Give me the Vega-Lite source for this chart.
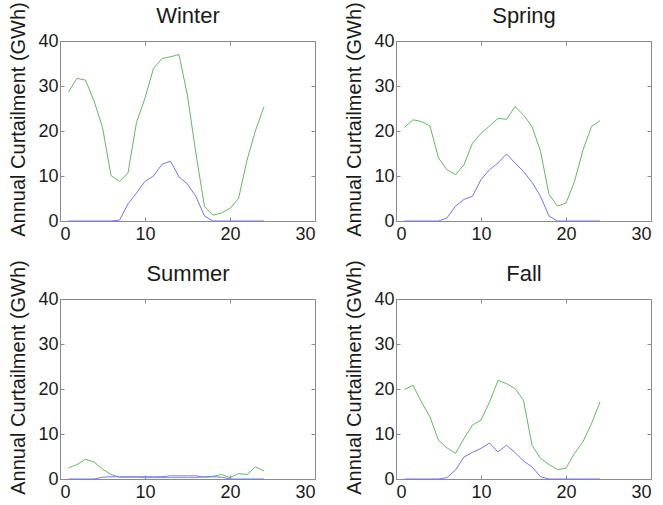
{
  "$schema": "https://vega.github.io/schema/vega-lite/v6.json",
  "padding": {"left": 8, "top": 1, "right": 0, "bottom": 0},
  "background": "white",
  "datasets": {
    "curt": [
      {"season":"Winter","series":"total","hour":1,"value":28.7},{"season":"Winter","series":"total","hour":2,"value":31.7},{"season":"Winter","series":"total","hour":3,"value":31.3},{"season":"Winter","series":"total","hour":4,"value":26.7},{"season":"Winter","series":"total","hour":5,"value":20.8},{"season":"Winter","series":"total","hour":6,"value":10.1},{"season":"Winter","series":"total","hour":7,"value":8.8},{"season":"Winter","series":"total","hour":8,"value":10.7},{"season":"Winter","series":"total","hour":9,"value":21.9},{"season":"Winter","series":"total","hour":10,"value":27.3},{"season":"Winter","series":"total","hour":11,"value":33.9},{"season":"Winter","series":"total","hour":12,"value":36.1},{"season":"Winter","series":"total","hour":13,"value":36.5},{"season":"Winter","series":"total","hour":14,"value":37.0},{"season":"Winter","series":"total","hour":15,"value":27.8},{"season":"Winter","series":"total","hour":16,"value":14.9},{"season":"Winter","series":"total","hour":17,"value":3.2},{"season":"Winter","series":"total","hour":18,"value":1.3},{"season":"Winter","series":"total","hour":19,"value":1.8},{"season":"Winter","series":"total","hour":20,"value":2.8},{"season":"Winter","series":"total","hour":21,"value":5.0},{"season":"Winter","series":"total","hour":22,"value":13.5},{"season":"Winter","series":"total","hour":23,"value":20.1},{"season":"Winter","series":"total","hour":24,"value":25.4},
      {"season":"Winter","series":"solar","hour":1,"value":0},{"season":"Winter","series":"solar","hour":2,"value":0},{"season":"Winter","series":"solar","hour":3,"value":0},{"season":"Winter","series":"solar","hour":4,"value":0},{"season":"Winter","series":"solar","hour":5,"value":0},{"season":"Winter","series":"solar","hour":6,"value":0},{"season":"Winter","series":"solar","hour":7,"value":0.2},{"season":"Winter","series":"solar","hour":8,"value":3.8},{"season":"Winter","series":"solar","hour":9,"value":6.2},{"season":"Winter","series":"solar","hour":10,"value":8.8},{"season":"Winter","series":"solar","hour":11,"value":10.0},{"season":"Winter","series":"solar","hour":12,"value":12.6},{"season":"Winter","series":"solar","hour":13,"value":13.3},{"season":"Winter","series":"solar","hour":14,"value":9.8},{"season":"Winter","series":"solar","hour":15,"value":8.2},{"season":"Winter","series":"solar","hour":16,"value":5.4},{"season":"Winter","series":"solar","hour":17,"value":1.1},{"season":"Winter","series":"solar","hour":18,"value":0},{"season":"Winter","series":"solar","hour":19,"value":0},{"season":"Winter","series":"solar","hour":20,"value":0},{"season":"Winter","series":"solar","hour":21,"value":0},{"season":"Winter","series":"solar","hour":22,"value":0},{"season":"Winter","series":"solar","hour":23,"value":0},{"season":"Winter","series":"solar","hour":24,"value":0},
      {"season":"Spring","series":"total","hour":1,"value":20.8},{"season":"Spring","series":"total","hour":2,"value":22.5},{"season":"Spring","series":"total","hour":3,"value":22.1},{"season":"Spring","series":"total","hour":4,"value":21.1},{"season":"Spring","series":"total","hour":5,"value":14.0},{"season":"Spring","series":"total","hour":6,"value":11.4},{"season":"Spring","series":"total","hour":7,"value":10.3},{"season":"Spring","series":"total","hour":8,"value":12.5},{"season":"Spring","series":"total","hour":9,"value":17.3},{"season":"Spring","series":"total","hour":10,"value":19.5},{"season":"Spring","series":"total","hour":11,"value":21.1},{"season":"Spring","series":"total","hour":12,"value":22.8},{"season":"Spring","series":"total","hour":13,"value":22.6},{"season":"Spring","series":"total","hour":14,"value":25.4},{"season":"Spring","series":"total","hour":15,"value":23.6},{"season":"Spring","series":"total","hour":16,"value":21.0},{"season":"Spring","series":"total","hour":17,"value":15.5},{"season":"Spring","series":"total","hour":18,"value":5.9},{"season":"Spring","series":"total","hour":19,"value":3.3},{"season":"Spring","series":"total","hour":20,"value":4.0},{"season":"Spring","series":"total","hour":21,"value":8.8},{"season":"Spring","series":"total","hour":22,"value":15.8},{"season":"Spring","series":"total","hour":23,"value":21.0},{"season":"Spring","series":"total","hour":24,"value":22.3},
      {"season":"Spring","series":"solar","hour":1,"value":0},{"season":"Spring","series":"solar","hour":2,"value":0},{"season":"Spring","series":"solar","hour":3,"value":0},{"season":"Spring","series":"solar","hour":4,"value":0},{"season":"Spring","series":"solar","hour":5,"value":0},{"season":"Spring","series":"solar","hour":6,"value":0.7},{"season":"Spring","series":"solar","hour":7,"value":3.3},{"season":"Spring","series":"solar","hour":8,"value":4.8},{"season":"Spring","series":"solar","hour":9,"value":5.5},{"season":"Spring","series":"solar","hour":10,"value":9.2},{"season":"Spring","series":"solar","hour":11,"value":11.4},{"season":"Spring","series":"solar","hour":12,"value":12.9},{"season":"Spring","series":"solar","hour":13,"value":14.9},{"season":"Spring","series":"solar","hour":14,"value":12.9},{"season":"Spring","series":"solar","hour":15,"value":11.0},{"season":"Spring","series":"solar","hour":16,"value":8.6},{"season":"Spring","series":"solar","hour":17,"value":5.5},{"season":"Spring","series":"solar","hour":18,"value":1.1},{"season":"Spring","series":"solar","hour":19,"value":0},{"season":"Spring","series":"solar","hour":20,"value":0},{"season":"Spring","series":"solar","hour":21,"value":0},{"season":"Spring","series":"solar","hour":22,"value":0},{"season":"Spring","series":"solar","hour":23,"value":0},{"season":"Spring","series":"solar","hour":24,"value":0},
      {"season":"Summer","series":"total","hour":1,"value":2.5},{"season":"Summer","series":"total","hour":2,"value":3.2},{"season":"Summer","series":"total","hour":3,"value":4.4},{"season":"Summer","series":"total","hour":4,"value":3.8},{"season":"Summer","series":"total","hour":5,"value":2.2},{"season":"Summer","series":"total","hour":6,"value":1.0},{"season":"Summer","series":"total","hour":7,"value":0.4},{"season":"Summer","series":"total","hour":8,"value":0.4},{"season":"Summer","series":"total","hour":9,"value":0.4},{"season":"Summer","series":"total","hour":10,"value":0.3},{"season":"Summer","series":"total","hour":11,"value":0.3},{"season":"Summer","series":"total","hour":12,"value":0.3},{"season":"Summer","series":"total","hour":13,"value":0.3},{"season":"Summer","series":"total","hour":14,"value":0.3},{"season":"Summer","series":"total","hour":15,"value":0.3},{"season":"Summer","series":"total","hour":16,"value":0.3},{"season":"Summer","series":"total","hour":17,"value":0.5},{"season":"Summer","series":"total","hour":18,"value":0.6},{"season":"Summer","series":"total","hour":19,"value":1.0},{"season":"Summer","series":"total","hour":20,"value":0.3},{"season":"Summer","series":"total","hour":21,"value":1.2},{"season":"Summer","series":"total","hour":22,"value":1.0},{"season":"Summer","series":"total","hour":23,"value":2.7},{"season":"Summer","series":"total","hour":24,"value":1.8},
      {"season":"Summer","series":"solar","hour":1,"value":0},{"season":"Summer","series":"solar","hour":2,"value":0},{"season":"Summer","series":"solar","hour":3,"value":0},{"season":"Summer","series":"solar","hour":4,"value":0},{"season":"Summer","series":"solar","hour":5,"value":0.4},{"season":"Summer","series":"solar","hour":6,"value":0.5},{"season":"Summer","series":"solar","hour":7,"value":0.5},{"season":"Summer","series":"solar","hour":8,"value":0.5},{"season":"Summer","series":"solar","hour":9,"value":0.5},{"season":"Summer","series":"solar","hour":10,"value":0.5},{"season":"Summer","series":"solar","hour":11,"value":0.5},{"season":"Summer","series":"solar","hour":12,"value":0.5},{"season":"Summer","series":"solar","hour":13,"value":0.7},{"season":"Summer","series":"solar","hour":14,"value":0.7},{"season":"Summer","series":"solar","hour":15,"value":0.7},{"season":"Summer","series":"solar","hour":16,"value":0.7},{"season":"Summer","series":"solar","hour":17,"value":0.4},{"season":"Summer","series":"solar","hour":18,"value":0.5},{"season":"Summer","series":"solar","hour":19,"value":0.4},{"season":"Summer","series":"solar","hour":20,"value":0},{"season":"Summer","series":"solar","hour":21,"value":0},{"season":"Summer","series":"solar","hour":22,"value":0},{"season":"Summer","series":"solar","hour":23,"value":0},{"season":"Summer","series":"solar","hour":24,"value":0},
      {"season":"Fall","series":"total","hour":1,"value":19.9},{"season":"Fall","series":"total","hour":2,"value":20.8},{"season":"Fall","series":"total","hour":3,"value":17.1},{"season":"Fall","series":"total","hour":4,"value":13.8},{"season":"Fall","series":"total","hour":5,"value":8.6},{"season":"Fall","series":"total","hour":6,"value":6.9},{"season":"Fall","series":"total","hour":7,"value":5.7},{"season":"Fall","series":"total","hour":8,"value":9.0},{"season":"Fall","series":"total","hour":9,"value":12.0},{"season":"Fall","series":"total","hour":10,"value":13.1},{"season":"Fall","series":"total","hour":11,"value":17.1},{"season":"Fall","series":"total","hour":12,"value":21.9},{"season":"Fall","series":"total","hour":13,"value":21.2},{"season":"Fall","series":"total","hour":14,"value":20.1},{"season":"Fall","series":"total","hour":15,"value":17.5},{"season":"Fall","series":"total","hour":16,"value":7.5},{"season":"Fall","series":"total","hour":17,"value":4.6},{"season":"Fall","series":"total","hour":18,"value":3.2},{"season":"Fall","series":"total","hour":19,"value":2.1},{"season":"Fall","series":"total","hour":20,"value":2.4},{"season":"Fall","series":"total","hour":21,"value":5.7},{"season":"Fall","series":"total","hour":22,"value":8.3},{"season":"Fall","series":"total","hour":23,"value":12.3},{"season":"Fall","series":"total","hour":24,"value":17.1},
      {"season":"Fall","series":"solar","hour":1,"value":0},{"season":"Fall","series":"solar","hour":2,"value":0},{"season":"Fall","series":"solar","hour":3,"value":0},{"season":"Fall","series":"solar","hour":4,"value":0},{"season":"Fall","series":"solar","hour":5,"value":0},{"season":"Fall","series":"solar","hour":6,"value":0.3},{"season":"Fall","series":"solar","hour":7,"value":2.0},{"season":"Fall","series":"solar","hour":8,"value":4.9},{"season":"Fall","series":"solar","hour":9,"value":5.9},{"season":"Fall","series":"solar","hour":10,"value":6.8},{"season":"Fall","series":"solar","hour":11,"value":8.0},{"season":"Fall","series":"solar","hour":12,"value":6.0},{"season":"Fall","series":"solar","hour":13,"value":7.5},{"season":"Fall","series":"solar","hour":14,"value":5.9},{"season":"Fall","series":"solar","hour":15,"value":4.0},{"season":"Fall","series":"solar","hour":16,"value":2.7},{"season":"Fall","series":"solar","hour":17,"value":0.5},{"season":"Fall","series":"solar","hour":18,"value":0},{"season":"Fall","series":"solar","hour":19,"value":0},{"season":"Fall","series":"solar","hour":20,"value":0},{"season":"Fall","series":"solar","hour":21,"value":0},{"season":"Fall","series":"solar","hour":22,"value":0},{"season":"Fall","series":"solar","hour":23,"value":0},{"season":"Fall","series":"solar","hour":24,"value":0}
    ]
  },
  "data": {"name": "curt"},
  "columns": 2,
  "spacing": {"row": 78, "column": 81},
  "bounds": "flush",
  "concat": [
    {
      "width": 255, "height": 180,
      "transform": [{"filter": "datum.season === 'Winter'"}],
      "layer": [
        {"mark": {"type": "line", "strokeWidth": 1}, "encoding": {
          "x": {"field": "hour", "type": "quantitative", "scale": {"domain": [0, 30], "nice": false}, "axis": {"orient": "bottom", "values": [0, 10, 20, 30], "title": null}},
          "y": {"field": "value", "type": "quantitative", "scale": {"domain": [0, 40], "nice": false}, "axis": {"orient": "left", "values": [0, 10, 20, 30, 40], "title": "Annual Curtailment (GWh)"}},
          "color": {"field": "series", "type": "nominal", "scale": {"domain": ["total", "solar"], "range": ["#62bb62", "#7474ff"]}, "legend": null}}},
        {"mark": {"type": "line", "opacity": 0}, "encoding": {
          "x": {"field": "hour", "type": "quantitative", "axis": {"orient": "top", "values": [0, 10, 20, 30], "labels": false, "title": "Winter", "titleFontSize": 22, "titlePadding": 13}},
          "y": {"field": "value", "type": "quantitative", "axis": {"orient": "right", "values": [0, 10, 20, 30, 40], "labels": false, "title": null}},
          "detail": {"field": "series"}}}
      ],
      "resolve": {"axis": {"x": "independent", "y": "independent"}}
    },
    {
      "width": 255, "height": 180,
      "transform": [{"filter": "datum.season === 'Spring'"}],
      "layer": [
        {"mark": {"type": "line", "strokeWidth": 1}, "encoding": {
          "x": {"field": "hour", "type": "quantitative", "scale": {"domain": [0, 30], "nice": false}, "axis": {"orient": "bottom", "values": [0, 10, 20, 30], "title": null}},
          "y": {"field": "value", "type": "quantitative", "scale": {"domain": [0, 40], "nice": false}, "axis": {"orient": "left", "values": [0, 10, 20, 30, 40], "title": "Annual Curtailment (GWh)"}},
          "color": {"field": "series", "type": "nominal", "scale": {"domain": ["total", "solar"], "range": ["#62bb62", "#7474ff"]}, "legend": null}}},
        {"mark": {"type": "line", "opacity": 0}, "encoding": {
          "x": {"field": "hour", "type": "quantitative", "axis": {"orient": "top", "values": [0, 10, 20, 30], "labels": false, "title": "Spring", "titleFontSize": 22, "titlePadding": 13}},
          "y": {"field": "value", "type": "quantitative", "axis": {"orient": "right", "values": [0, 10, 20, 30, 40], "labels": false, "title": null}},
          "detail": {"field": "series"}}}
      ],
      "resolve": {"axis": {"x": "independent", "y": "independent"}}
    },
    {
      "width": 255, "height": 180,
      "transform": [{"filter": "datum.season === 'Summer'"}],
      "layer": [
        {"mark": {"type": "line", "strokeWidth": 1}, "encoding": {
          "x": {"field": "hour", "type": "quantitative", "scale": {"domain": [0, 30], "nice": false}, "axis": {"orient": "bottom", "values": [0, 10, 20, 30], "title": null}},
          "y": {"field": "value", "type": "quantitative", "scale": {"domain": [0, 40], "nice": false}, "axis": {"orient": "left", "values": [0, 10, 20, 30, 40], "title": "Annual Curtailment (GWh)"}},
          "color": {"field": "series", "type": "nominal", "scale": {"domain": ["total", "solar"], "range": ["#62bb62", "#7474ff"]}, "legend": null}}},
        {"mark": {"type": "line", "opacity": 0}, "encoding": {
          "x": {"field": "hour", "type": "quantitative", "axis": {"orient": "top", "values": [0, 10, 20, 30], "labels": false, "title": "Summer", "titleFontSize": 22, "titlePadding": 13}},
          "y": {"field": "value", "type": "quantitative", "axis": {"orient": "right", "values": [0, 10, 20, 30, 40], "labels": false, "title": null}},
          "detail": {"field": "series"}}}
      ],
      "resolve": {"axis": {"x": "independent", "y": "independent"}}
    },
    {
      "width": 255, "height": 180,
      "transform": [{"filter": "datum.season === 'Fall'"}],
      "layer": [
        {"mark": {"type": "line", "strokeWidth": 1}, "encoding": {
          "x": {"field": "hour", "type": "quantitative", "scale": {"domain": [0, 30], "nice": false}, "axis": {"orient": "bottom", "values": [0, 10, 20, 30], "title": null}},
          "y": {"field": "value", "type": "quantitative", "scale": {"domain": [0, 40], "nice": false}, "axis": {"orient": "left", "values": [0, 10, 20, 30, 40], "title": "Annual Curtailment (GWh)"}},
          "color": {"field": "series", "type": "nominal", "scale": {"domain": ["total", "solar"], "range": ["#62bb62", "#7474ff"]}, "legend": null}}},
        {"mark": {"type": "line", "opacity": 0}, "encoding": {
          "x": {"field": "hour", "type": "quantitative", "axis": {"orient": "top", "values": [0, 10, 20, 30], "labels": false, "title": "Fall", "titleFontSize": 22, "titlePadding": 13}},
          "y": {"field": "value", "type": "quantitative", "axis": {"orient": "right", "values": [0, 10, 20, 30, 40], "labels": false, "title": null}},
          "detail": {"field": "series"}}}
      ],
      "resolve": {"axis": {"x": "independent", "y": "independent"}}
    }
  ],
  "config": {
    "view": {"stroke": "#8a8a8a", "strokeWidth": 1},
    "axis": {
      "domain": false, "grid": false,
      "tickSize": -4, "tickColor": "#8a8a8a", "tickWidth": 1,
      "labelFont": "Liberation Sans", "labelFontSize": 18, "labelColor": "#1a1a1a",
      "titleFont": "Liberation Sans", "titleFontSize": 19, "titleFontWeight": "normal", "titleColor": "#1a1a1a", "titlePadding": 9
    },
    "axisX": {"labelPadding": 8},
    "axisY": {"labelPadding": 6},
    "axisLeft": {"titleFontSize": 20, "titleY": 78}
  }
}
